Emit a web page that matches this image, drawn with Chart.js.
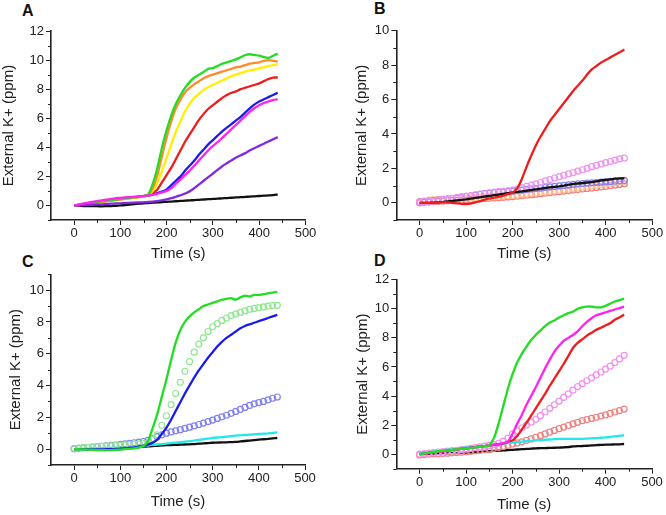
<!DOCTYPE html>
<html><head><meta charset="utf-8">
<script src="https://cdn.jsdelivr.net/npm/chart.js@4.4.0/dist/chart.umd.min.js"></script>
<style>
html,body{margin:0;padding:0;background:#fff;width:666px;height:515px;overflow:hidden;position:relative;font-family:"Liberation Sans",Arial,sans-serif}
canvas{position:absolute}
.lbl{position:absolute;font:bold 16px "Liberation Sans",Arial,sans-serif;line-height:16px;color:#111}
</style></head><body>
<div class="lbl" style="left:22px;top:3px">A</div>
<div class="lbl" style="left:374px;top:1px">B</div>
<div class="lbl" style="left:22px;top:254px">C</div>
<div class="lbl" style="left:374px;top:253px">D</div>
<canvas id="cA" width="333" height="265" style="left:0;top:0"></canvas>
<canvas id="cB" width="333" height="265" style="left:333px;top:0"></canvas>
<canvas id="cC" width="333" height="256" style="left:0;top:257px"></canvas>
<canvas id="cD" width="333" height="258" style="left:333px;top:257px"></canvas>
<script>
// time axis (s)
const time = [0,10,20,30,40,50,60,70,80,90,100,110,120,130,140,150,160,170,180,190,200,210,220,230,240,250,260,270,280,290,300,310,320,330,340,350,360,370,380,390,400,410,420,430,440];
const xTickLabels = [0,100,200,300,400,500];

// Panel A
const aGreen = [0,0.05,0.1,0.15,0.2,0.25,0.3,0.33,0.37,0.4,0.45,0.5,0.53,0.57,0.6,0.65,0.75,1.5,2.6,4.0,5.2,6.2,7.0,7.6,8.1,8.5,8.8,9.0,9.2,9.4,9.45,9.6,9.75,9.85,9.95,10.05,10.2,10.35,10.4,10.35,10.3,10.2,10.15,10.3,10.45];
const aOrange = [0,0.04,0.08,0.13,0.18,0.22,0.27,0.3,0.34,0.38,0.42,0.46,0.5,0.54,0.58,0.62,0.7,1.2,2.1,3.4,4.7,5.8,6.7,7.3,7.8,8.1,8.35,8.55,8.75,8.9,9.0,9.1,9.2,9.3,9.4,9.5,9.55,9.65,9.75,9.8,9.85,9.95,10.0,9.95,9.9];
const aYellow = [0,0.03,0.07,0.12,0.17,0.21,0.25,0.29,0.33,0.37,0.41,0.45,0.49,0.53,0.57,0.61,0.7,1.0,1.6,2.4,3.3,4.2,5.1,5.8,6.5,7.0,7.4,7.7,7.95,8.15,8.3,8.45,8.6,8.75,8.9,9.0,9.1,9.2,9.3,9.35,9.45,9.5,9.6,9.65,9.7];
const aRed = [0,0.05,0.1,0.14,0.19,0.23,0.28,0.32,0.36,0.4,0.44,0.48,0.52,0.56,0.6,0.64,0.7,0.85,1.1,1.6,2.1,2.6,3.2,3.8,4.4,4.9,5.4,5.9,6.3,6.65,6.9,7.15,7.4,7.6,7.75,7.85,8.0,8.1,8.2,8.3,8.4,8.55,8.7,8.8,8.8];
const aBlue = [0,0.04,0.09,0.14,0.18,0.23,0.27,0.31,0.35,0.39,0.43,0.47,0.51,0.55,0.59,0.63,0.68,0.75,0.85,0.95,1.1,1.4,1.7,2.0,2.4,2.75,3.1,3.5,3.85,4.2,4.5,4.8,5.1,5.35,5.6,5.85,6.1,6.4,6.7,6.95,7.15,7.3,7.45,7.6,7.75];
const aMagenta = [0,0.05,0.12,0.2,0.25,0.3,0.35,0.4,0.45,0.5,0.52,0.55,0.58,0.6,0.63,0.66,0.7,0.73,0.8,0.9,1.0,1.2,1.5,1.8,2.1,2.4,2.75,3.1,3.45,3.8,4.1,4.35,4.65,4.95,5.25,5.55,5.85,6.15,6.45,6.7,6.9,7.05,7.15,7.25,7.3];
const aPurple = [0,0,0.02,0.03,0.05,0.07,0.08,0.1,0.12,0.14,0.15,0.17,0.18,0.2,0.21,0.22,0.24,0.26,0.3,0.35,0.42,0.5,0.6,0.7,0.82,0.98,1.2,1.45,1.7,1.95,2.2,2.45,2.7,2.9,3.1,3.3,3.45,3.6,3.8,3.95,4.1,4.25,4.4,4.55,4.7];
const aBlack = [-0.03,-0.03,-0.04,-0.04,-0.05,-0.05,-0.06,-0.05,-0.04,-0.02,0,0.03,0.06,0.09,0.12,0.15,0.17,0.19,0.21,0.23,0.25,0.27,0.29,0.31,0.33,0.35,0.37,0.39,0.41,0.43,0.45,0.47,0.49,0.51,0.53,0.55,0.57,0.59,0.61,0.63,0.65,0.67,0.69,0.71,0.75];

// Panel B
const bRed = [0,0,0,0,0.02,0.03,0.03,0,-0.03,-0.06,-0.07,-0.05,0.02,0.1,0.18,0.25,0.3,0.35,0.42,0.5,0.6,0.85,1.4,2.1,2.75,3.35,3.85,4.3,4.75,5.1,5.45,5.8,6.15,6.5,6.8,7.1,7.45,7.75,7.95,8.15,8.3,8.45,8.6,8.75,8.9];
const bBlack = [0,0,0,0.01,0.03,0.05,0.08,0.11,0.14,0.17,0.2,0.24,0.28,0.32,0.36,0.4,0.44,0.48,0.52,0.56,0.6,0.63,0.66,0.7,0.74,0.78,0.82,0.86,0.9,0.93,0.96,1.0,1.05,1.1,1.12,1.15,1.18,1.2,1.25,1.3,1.33,1.36,1.4,1.42,1.42];
const bMagentaO = [0.05,0.08,0.1,0.12,0.15,0.18,0.22,0.26,0.3,0.34,0.38,0.42,0.46,0.5,0.54,0.58,0.62,0.65,0.68,0.7,0.74,0.8,0.87,0.95,1.03,1.1,1.18,1.27,1.35,1.44,1.52,1.6,1.68,1.76,1.84,1.92,2.0,2.1,2.18,2.25,2.33,2.4,2.48,2.55,2.6];
const bBlueO = [0.05,0.07,0.1,0.13,0.16,0.19,0.22,0.25,0.29,0.33,0.37,0.41,0.45,0.49,0.53,0.56,0.59,0.62,0.64,0.66,0.68,0.71,0.74,0.77,0.8,0.83,0.86,0.89,0.92,0.95,0.98,1.01,1.04,1.07,1.1,1.12,1.14,1.16,1.18,1.2,1.22,1.24,1.26,1.28,1.3];
const bOrangeO = [0.05,0.1,0.15,0.18,0.2,0.22,0.23,0.24,0.25,0.26,0.27,0.28,0.29,0.3,0.31,0.33,0.35,0.37,0.39,0.41,0.43,0.46,0.49,0.52,0.55,0.58,0.61,0.64,0.67,0.7,0.73,0.76,0.8,0.84,0.88,0.92,0.96,1.0,1.03,1.06,1.1,1.14,1.18,1.22,1.25];
const bRedO = [0,0.02,0.04,0.06,0.08,0.1,0.12,0.13,0.14,0.15,0.16,0.18,0.2,0.22,0.24,0.26,0.28,0.3,0.32,0.34,0.36,0.38,0.41,0.44,0.47,0.5,0.53,0.56,0.59,0.62,0.65,0.68,0.71,0.74,0.77,0.8,0.83,0.86,0.89,0.92,0.95,0.99,1.03,1.07,1.1];

// Panel C
const cGreen = [0,0,-0.02,-0.03,-0.05,-0.06,-0.07,-0.07,-0.06,-0.05,-0.03,0,0.02,0.05,0.1,0.2,0.5,1.3,2.2,3.3,4.4,5.6,6.7,7.5,8.0,8.35,8.6,8.8,9.0,9.1,9.2,9.3,9.4,9.45,9.5,9.4,9.55,9.65,9.6,9.7,9.7,9.75,9.8,9.85,9.9];
const cGreenO = [0.05,0.07,0.09,0.11,0.13,0.15,0.17,0.19,0.21,0.23,0.25,0.27,0.29,0.31,0.33,0.35,0.4,0.6,0.9,1.5,2.1,2.8,3.5,4.2,4.9,5.5,6.1,6.6,7.0,7.4,7.7,7.9,8.1,8.25,8.4,8.5,8.6,8.7,8.8,8.85,8.9,8.95,9.0,9.05,9.05];
const cBlue = [0,0,0,-0.01,-0.02,-0.02,-0.02,-0.01,0,0.01,0.03,0.05,0.08,0.11,0.15,0.2,0.28,0.4,0.6,0.95,1.35,1.85,2.4,2.95,3.5,4.0,4.5,4.95,5.35,5.75,6.1,6.45,6.75,7.0,7.2,7.4,7.6,7.75,7.85,7.95,8.05,8.15,8.25,8.35,8.45];
const cBlueO = [0.02,0.05,0.08,0.1,0.13,0.15,0.18,0.2,0.23,0.26,0.3,0.33,0.37,0.4,0.44,0.48,0.55,0.65,0.78,0.9,1.0,1.08,1.15,1.22,1.3,1.38,1.46,1.55,1.64,1.73,1.83,1.93,2.03,2.13,2.25,2.37,2.5,2.62,2.75,2.85,2.93,3.0,3.1,3.2,3.28];
const cCyan = [0,0.01,0.02,0.03,0.04,0.05,0.06,0.07,0.08,0.09,0.1,0.12,0.14,0.16,0.18,0.2,0.23,0.26,0.29,0.32,0.35,0.38,0.41,0.44,0.47,0.5,0.54,0.58,0.62,0.66,0.7,0.73,0.76,0.79,0.82,0.85,0.87,0.89,0.91,0.93,0.95,0.97,0.99,1.02,1.05];
const cBlack = [0,-0.01,-0.02,-0.03,-0.04,-0.05,-0.05,-0.05,-0.04,-0.02,0,0.03,0.06,0.09,0.12,0.15,0.17,0.19,0.21,0.23,0.25,0.26,0.27,0.28,0.29,0.3,0.32,0.34,0.36,0.38,0.4,0.41,0.42,0.43,0.44,0.45,0.48,0.51,0.54,0.57,0.6,0.62,0.64,0.67,0.7];

// Panel D
const dGreen = [0,0.05,0.1,0.15,0.2,0.23,0.27,0.3,0.33,0.36,0.4,0.43,0.47,0.5,0.55,0.6,1.1,2.1,3.3,4.5,5.5,6.3,6.9,7.4,7.85,8.2,8.5,8.8,9.05,9.2,9.4,9.55,9.7,9.8,10.0,10.1,10.15,10.15,10.1,10.1,10.2,10.35,10.5,10.6,10.7];
const dMagenta = [0,0.04,0.08,0.12,0.16,0.2,0.24,0.28,0.32,0.36,0.4,0.44,0.48,0.52,0.56,0.6,0.65,0.7,0.75,0.85,1.4,2.1,2.7,3.4,4.0,4.6,5.25,5.9,6.5,7.05,7.45,7.8,8.0,8.2,8.45,8.8,9.1,9.35,9.55,9.65,9.75,9.85,9.95,10.05,10.15];
const dRed = [0,0.04,0.08,0.12,0.16,0.2,0.24,0.28,0.32,0.36,0.4,0.44,0.48,0.52,0.56,0.6,0.64,0.68,0.74,0.85,0.95,1.25,1.7,2.15,2.65,3.15,3.65,4.15,4.7,5.2,5.7,6.2,6.75,7.3,7.65,7.9,8.15,8.35,8.55,8.7,8.85,9.0,9.25,9.4,9.6];
const dPinkO = [0,0.04,0.08,0.11,0.15,0.18,0.21,0.24,0.27,0.31,0.35,0.4,0.45,0.5,0.55,0.6,0.65,0.75,0.9,1.1,1.4,1.6,1.8,2.0,2.2,2.4,2.65,2.9,3.15,3.4,3.65,3.9,4.15,4.4,4.65,4.85,5.05,5.25,5.45,5.65,5.85,6.05,6.3,6.55,6.8];
const dSalmonO = [-0.05,-0.03,0,0.02,0.03,0.05,0.07,0.09,0.11,0.13,0.15,0.19,0.23,0.27,0.31,0.35,0.4,0.46,0.53,0.61,0.7,0.77,0.85,0.95,1.05,1.15,1.27,1.39,1.51,1.63,1.75,1.86,1.97,2.08,2.19,2.3,2.38,2.46,2.54,2.62,2.7,2.8,2.9,3.0,3.1];
const dCyan = [0.05,0.09,0.13,0.17,0.21,0.25,0.29,0.33,0.37,0.41,0.45,0.48,0.51,0.54,0.57,0.6,0.64,0.68,0.72,0.76,0.8,0.83,0.86,0.89,0.92,0.95,0.97,0.99,1.01,1.03,1.05,1.05,1.05,1.05,1.05,1.05,1.07,1.09,1.11,1.13,1.15,1.18,1.22,1.26,1.3];
const dBlack = [0,0.01,0.02,0.03,0.04,0.05,0.06,0.07,0.08,0.09,0.1,0.12,0.14,0.16,0.18,0.2,0.22,0.24,0.26,0.28,0.3,0.32,0.34,0.36,0.38,0.4,0.41,0.42,0.43,0.44,0.45,0.47,0.49,0.53,0.55,0.56,0.58,0.6,0.62,0.64,0.65,0.66,0.67,0.68,0.7];

const COL = {green:'#22dd22', orange:'#ff8a2a', yellow:'#fff000', red:'#ee1c1c', blue:'#1c1ce8', magenta:'#ff22f0', purple:'#8228e0', black:'#111111', cyan:'#22e8e8',
  greenO:'#8fe88f', blueO:'#8080f0', magentaO:'#f090f0', orangeO:'#ffbf90', redO:'#f08080', pinkO:'#f090f0', salmonO:'#f08080'};

function pts(arr){ return arr.map((v,i)=>({x:time[i], y:v})); }
function line(arr,c){ return {data:pts(arr), borderColor:c, backgroundColor:c, borderWidth:2.3, pointRadius:0, tension:0.15, showLine:true}; }
function circ(arr,c){ return {data:pts(arr), borderColor:c, backgroundColor:'rgba(255,255,255,0)', borderWidth:1.2, pointRadius:3, pointStyle:'circle', showLine:false}; }

const minorTicks = {
  id:'minorTicks',
  afterDraw(chart){
    const ctx = chart.ctx, xs = chart.scales.x, ys = chart.scales.y;
    ctx.save(); ctx.strokeStyle = '#222'; ctx.lineWidth = 1;
    ctx.beginPath();
    for (let v = 50; v <= 450; v += 100) { const p = Math.round(xs.getPixelForValue(v))+0.5; ctx.moveTo(p, xs.top); ctx.lineTo(p, xs.top+3); }
    for (let v = Math.ceil(ys.min); v <= ys.max; v++) { if (Math.abs(v % 2) === 1) { const p = Math.round(ys.getPixelForValue(v))+0.5; ctx.moveTo(ys.right, p); ctx.lineTo(ys.right-3, p); } }
    ctx.stroke(); ctx.restore();
  }
};

function makeChart(id, o){
  new Chart(document.getElementById(id), {
    type:'scatter',
    data:{datasets:o.datasets},
    options:{
      responsive:false, animation:false, events:[],
      layout:{padding:{top:o.padTop, right:o.padRight, left:0, bottom:0}},
      plugins:{legend:{display:false}, tooltip:{enabled:false}},
      scales:{
        x:{type:'linear', min:-50, max:500,
          afterBuildTicks(s){ s.ticks = xTickLabels.map(v=>({value:v})); },
          afterFit(s){ s.height = o.xH; },
          ticks:{font:{family:'"Liberation Sans", Arial, sans-serif', size:13}, color:'#222', padding:1, maxRotation:0, autoSkip:false},
          grid:{drawOnChartArea:false, drawTicks:true, tickLength:5, color:'#222', tickWidth:1},
          border:{display:true, color:'#222', width:1.6},
          title:{display:true, text:'Time (s)', color:'#222', font:{family:'"Liberation Sans", Arial, sans-serif', size:15}, padding:{top:2, bottom:o.xTitlePad}}
        },
        y:{type:'linear', min:o.yMin, max:o.yMax,
          afterBuildTicks(s){ s.ticks = o.yTicks.map(v=>({value:v})); },
          afterFit(s){ s.width = o.yW; },
          ticks:{font:{family:'"Liberation Sans", Arial, sans-serif', size:13}, color:'#222', padding:2, autoSkip:false},
          grid:{drawOnChartArea:false, drawTicks:true, tickLength:5, color:'#222', tickWidth:1},
          border:{display:true, color:'#222', width:1.6},
          title:{display:true, text:'External K+ (ppm)', color:'#222', font:{family:'"Liberation Sans", Arial, sans-serif', size:15}, padding:{top:o.yTitlePad, bottom:0}}
        }
      }
    },
    plugins:[minorTicks]
  });
}

const yTicksA = [0,2,4,6,8,10,12];
const yTicksB = [0,2,4,6,8,10];
const yTicksC = [0,2,4,6,8,10];
const yTicksD = [0,2,4,6,8,10,12];

makeChart('cA', {yMin:-1, yMax:12, yTicks:yTicksA, yW:51, padTop:31, padRight:27.5, xH:45, xTitlePad:2, yTitlePad:0,
  datasets:[line(aMagenta,COL.magenta), line(aPurple,COL.purple), line(aGreen,COL.green), line(aOrange,COL.orange), line(aYellow,COL.yellow), line(aRed,COL.red), line(aBlue,COL.blue), line(aBlack,COL.black)]});

makeChart('cB', {yMin:-1, yMax:10, yTicks:yTicksB, yW:63.3, padTop:30.7, padRight:13.7, xH:45, xTitlePad:2, yTitlePad:19.5,
  datasets:[line(bRed,COL.red), line(bBlack,COL.black), circ(bMagentaO,COL.magentaO), circ(bBlueO,COL.blueO), circ(bOrangeO,COL.orangeO), circ(bRedO,COL.redO)]});

makeChart('cC', {yMin:-1, yMax:11, yTicks:yTicksC, yW:51, padTop:17.3, padRight:28, xH:48, xTitlePad:2, yTitlePad:7,
  datasets:[line(cGreen,COL.green), line(cBlue,COL.blue), circ(cGreenO,COL.greenO), circ(cBlueO,COL.blueO), line(cCyan,COL.cyan), line(cBlack,COL.black)]});

makeChart('cD', {yMin:-1, yMax:12, yTicks:yTicksD, yW:63.3, padTop:22.7, padRight:14, xH:46.3, xTitlePad:1, yTitlePad:20.5,
  datasets:[line(dGreen,COL.green), line(dMagenta,COL.magenta), line(dRed,COL.red), line(dCyan,COL.cyan), circ(dPinkO,COL.pinkO), circ(dSalmonO,COL.salmonO), line(dBlack,COL.black)]});
</script>
</body></html>
